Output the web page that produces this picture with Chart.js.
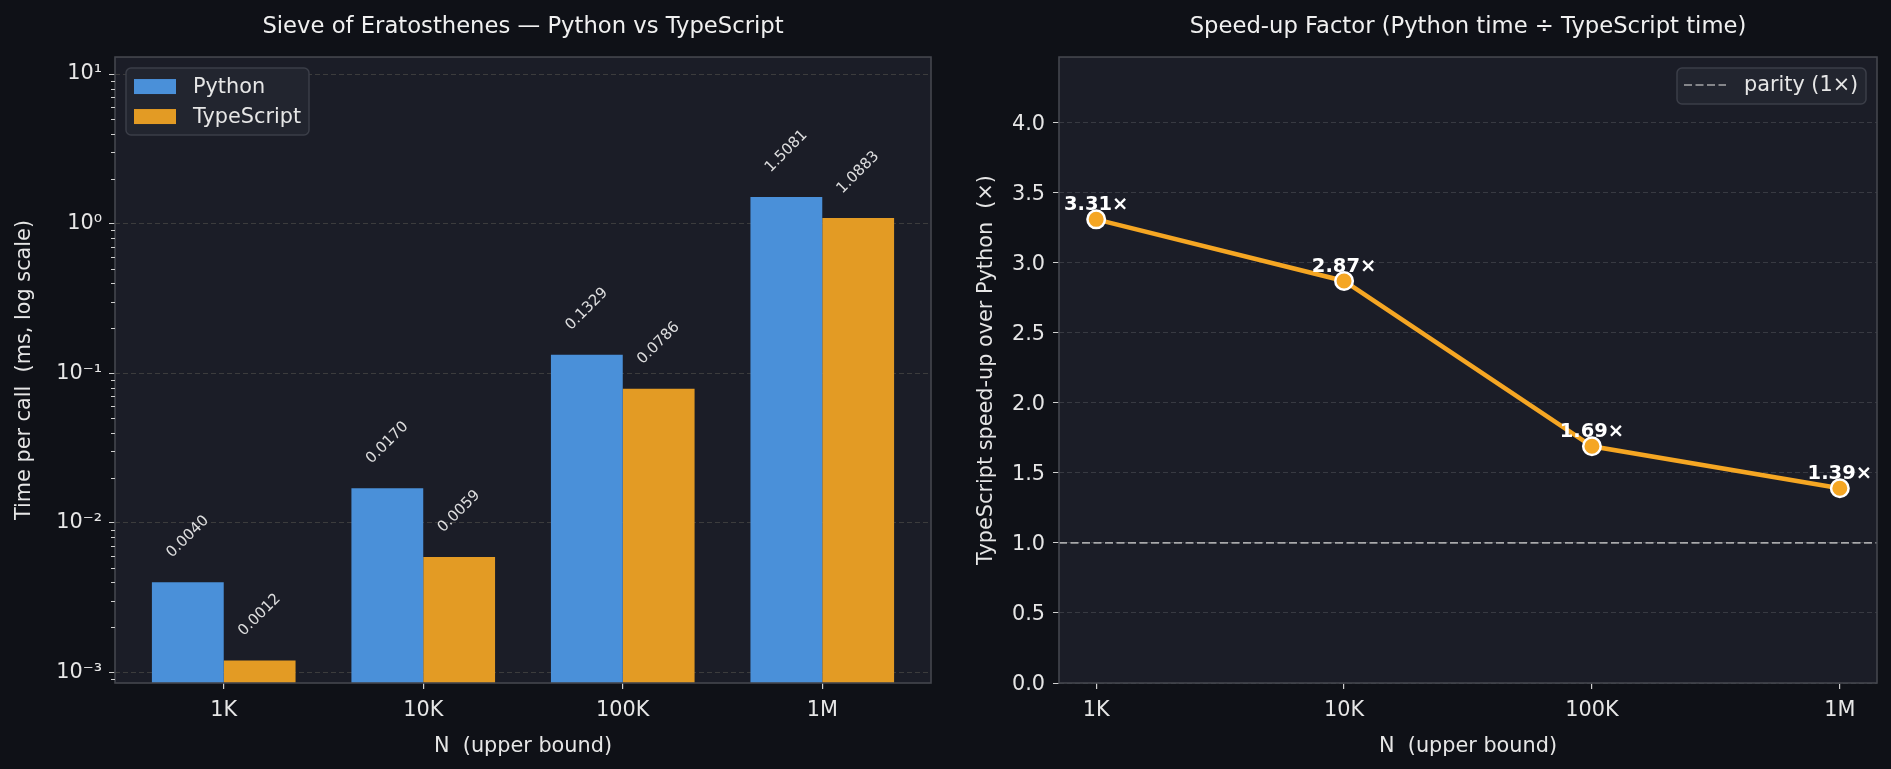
<!DOCTYPE html>
<html>
<head>
<meta charset="utf-8">
<script src="https://cdn.jsdelivr.net/npm/chart.js@4.4.1/dist/chart.umd.min.js"></script>
<style>
  body { margin: 0; background: #0f1117; }
  #left { position: absolute; left: 0; top: 0; }
  #right { position: absolute; left: 945px; top: 0; }
</style>
</head>
<body>
<canvas id="left" width="945" height="769"></canvas>
<canvas id="right" width="946" height="769"></canvas>
<script>
// datos del benchmark
const categories = ['1K', '10K', '100K', '1M'];
const pythonMs = [0.0040, 0.0170, 0.1329, 1.5081];
const typescriptMs = [0.0012, 0.0059, 0.0786, 1.0883];
const speedup = [3.31, 2.87, 1.69, 1.39];
const parity = 1;

const logMajorTicks = [0.001, 0.01, 0.1, 1, 10];
const logTickLabels = ['10⁻³', '10⁻²', '10⁻¹', '10⁰', '10¹'];
const speedTicks = [0, 0.5, 1, 1.5, 2, 2.5, 3, 3.5, 4];

// rangos de ejes
const timeMin = 0.000848, timeMax = 12.99;
const barXMin = -0.545, barXMax = 3.545;
const speedMin = 0, speedMax = 4.4685;
const lineXMin = -0.15, lineXMax = 3.15;

const FONT = 'DejaVu Sans';
const TXT = '#e6e6e6';
const PLOT_BG = '#1b1d27';
const SPINE = '#44464e';

function isMajor(v) {
    return logMajorTicks.some(m => Math.abs(m - v) / m < 1e-6);
}

// ticks menores del eje log
const logMinorTicks = [];
logMajorTicks.concat([0.0001]).forEach(m => {
    for (let k = 2; k <= 9; k++) {
        const v = m * k;
        if (v > timeMin && v < timeMax) logMinorTicks.push(v);
    }
});

// fondo del área y marco
const framePlugin = {
    id: 'frame',
    beforeDraw(chart) {
        const {ctx, chartArea: a} = chart;
        ctx.save();
        ctx.fillStyle = PLOT_BG;
        ctx.fillRect(a.left, a.top, a.right - a.left, a.bottom - a.top);
        ctx.restore();
    },
    afterDraw(chart) {
        const {ctx, chartArea: a} = chart;
        ctx.save();
        ctx.strokeStyle = SPINE;
        ctx.lineWidth = 1.6;
        ctx.strokeRect(a.left, a.top, a.right - a.left, a.bottom - a.top);
        ctx.restore();
    }
};

function roundBox(ctx, x, y, w, h, r) {
    ctx.beginPath();
    ctx.roundRect(x, y, w, h, r);
    ctx.fillStyle = '#22252f';
    ctx.fill();
    ctx.strokeStyle = '#3b3e48';
    ctx.lineWidth = 1.5;
    ctx.stroke();
}

// etiquetas rotadas sobre las barras + leyenda + ticks menores
const barExtras = {
    id: 'barExtras',
    afterDraw(chart) {
        const ctx = chart.ctx;
        const a = chart.chartArea;
        const y = chart.scales.y;
        ctx.save();

        // ticks menores
        ctx.strokeStyle = '#cfcfcf';
        ctx.lineWidth = 1;
        logMinorTicks.forEach(v => {
            const py = Math.round(y.getPixelForValue(v)) + 0.5;
            ctx.beginPath();
            ctx.moveTo(a.left - 4, py);
            ctx.lineTo(a.left, py);
            ctx.stroke();
        });

        // valores
        ctx.font = '15px "' + FONT + '"';
        ctx.fillStyle = 'rgba(238,238,238,0.92)';
        ctx.textAlign = 'center';
        ctx.textBaseline = 'middle';
        chart.data.datasets.forEach((ds, di) => {
            const meta = chart.getDatasetMeta(di);
            meta.data.forEach((bar, i) => {
                const txt = ds.data[i].y.toFixed(4);
                const w = ctx.measureText(txt).width;
                const half = (w + 14) / (2 * Math.SQRT2);
                ctx.save();
                ctx.translate(bar.x, bar.y - 22 - half);
                ctx.rotate(-Math.PI / 4);
                ctx.fillText(txt, 0, 0);
                ctx.restore();
            });
        });

        // leyenda
        const bx = a.left + 11, by = a.top + 11;
        roundBox(ctx, bx, by, 183, 67, 5);
        ctx.font = '20.8px "' + FONT + '"';
        ctx.textAlign = 'left';
        ctx.textBaseline = 'middle';
        chart.data.datasets.forEach((ds, i) => {
            const cy = by + 19 + 30 * i;
            ctx.fillStyle = ds.backgroundColor;
            ctx.fillRect(bx + 8, cy - 8, 42, 15);
            ctx.fillStyle = TXT;
            ctx.fillText(ds.label, bx + 67, cy + 1);
        });
        ctx.restore();
    }
};

const lineExtras = {
    id: 'lineExtras',
    afterDraw(chart) {
        const ctx = chart.ctx;
        const a = chart.chartArea;
        ctx.save();

        // etiquetas de cada punto
        ctx.font = 'bold 19.5px "' + FONT + '"';
        ctx.fillStyle = '#ffffff';
        ctx.textAlign = 'center';
        ctx.textBaseline = 'alphabetic';
        chart.getDatasetMeta(0).data.forEach((pt, i) => {
            ctx.fillText(speedup[i].toFixed(2) + '×', pt.x, pt.y - 9);
        });

        // leyenda
        const ds = chart.data.datasets[1];
        const bw = 189, bh = 36;
        const bx = a.right - 11 - bw, by = a.top + 11;
        roundBox(ctx, bx, by, bw, bh, 5);
        const cy = by + 17;
        ctx.strokeStyle = ds.borderColor;
        ctx.lineWidth = ds.borderWidth;
        ctx.setLineDash(ds.borderDash);
        ctx.beginPath();
        ctx.moveTo(bx + 7, cy);
        ctx.lineTo(bx + 49, cy);
        ctx.stroke();
        ctx.setLineDash([]);
        ctx.font = '20.8px "' + FONT + '"';
        ctx.textAlign = 'left';
        ctx.textBaseline = 'middle';
        ctx.fillStyle = TXT;
        ctx.fillText(ds.label, bx + 67, cy + 1);
        ctx.restore();
    }
};

const tickFont = { family: FONT, size: 20.8 };
const titleFont = { family: FONT, size: 22.7, weight: 'normal' };

// gráfica izquierda: tiempos en escala log
new Chart(document.getElementById('left'), {
    type: 'bar',
    data: {
        datasets: [
            { label: 'Python', data: pythonMs.map((v, i) => ({ x: i, y: v })), backgroundColor: '#4a90d9', borderWidth: 0 },
            { label: 'TypeScript', data: typescriptMs.map((v, i) => ({ x: i, y: v })), backgroundColor: '#e39b24', borderWidth: 0 }
        ]
    },
    options: {
        responsive: false,
        animation: false,
        devicePixelRatio: 1,
        categoryPercentage: 0.72,
        barPercentage: 1,
        layout: { padding: { left: 0, right: 14, top: 0, bottom: 0 } },
        plugins: {
            legend: { display: false },
            tooltip: { enabled: false },
            title: {
                display: true,
                fullSize: false,
                text: 'Sieve of Eratosthenes — Python vs TypeScript',
                color: '#f0f0f0',
                font: titleFont,
                padding: { top: 13.8, bottom: 16 }
            }
        },
        scales: {
            x: {
                type: 'linear',
                min: barXMin,
                max: barXMax,
                offset: false,
                afterBuildTicks: s => { s.ticks = categories.map((c, i) => ({ value: i })); },
                afterFit: s => { s.height = 86; },
                ticks: { color: TXT, font: tickFont, padding: 9, autoSkip: false, maxRotation: 0,
                    callback: v => categories[v] },
                grid: { display: true, drawOnChartArea: false, offset: false, tickLength: 6, tickColor: '#cfcfcf', lineWidth: 1.2 },
                border: { display: false },
                title: { display: true, text: 'N  (upper bound)', color: TXT, font: tickFont, padding: { top: 0, bottom: 10.3 } }
            },
            y: {
                type: 'logarithmic',
                min: timeMin,
                max: timeMax,
                z: 1,
                afterBuildTicks: s => {
                    s.ticks = logMajorTicks.concat(logMinorTicks).sort((p, q) => p - q).map(v => ({ value: v, major: isMajor(v) }));
                },
                afterFit: s => { s.width = 115; },
                ticks: { color: TXT, font: tickFont, padding: 7, autoSkip: false,
                    callback: v => isMajor(v) ? logTickLabels[logMajorTicks.findIndex(m => Math.abs(m - v) / m < 1e-6)] : '' },
                grid: {
                    color: c => (c.tick && isMajor(c.tick.value)) ? 'rgba(62,62,62,0.95)' : 'rgba(0,0,0,0)',
                    tickColor: c => (c.tick && isMajor(c.tick.value)) ? '#cfcfcf' : 'rgba(0,0,0,0)',
                    tickLength: 6,
                    lineWidth: 1
                },
                border: { display: false, dash: [5, 3] },
                title: { display: true, text: 'Time per call  (ms, log scale)', color: TXT, font: tickFont, padding: { top: 12, bottom: 0 } }
            }
        }
    },
    plugins: [framePlugin, barExtras]
});

// gráfica derecha: factor de aceleración
new Chart(document.getElementById('right'), {
    type: 'line',
    data: {
        datasets: [
            {
                label: 'speed-up',
                data: speedup.map((v, i) => ({ x: i, y: v })),
                borderColor: '#f5a623',
                borderWidth: 4.5,
                tension: 0,
                pointRadius: 8.75,
                pointBackgroundColor: '#f5a623',
                pointBorderColor: '#ffffff',
                pointBorderWidth: 2.5
            },
            {
                label: 'parity (1×)',
                data: [{ x: lineXMin, y: parity }, { x: lineXMax, y: parity }],
                borderColor: 'rgba(200,200,200,0.8)',
                borderWidth: 1.6,
                borderDash: [8, 3.5],
                pointRadius: 0
            }
        ]
    },
    options: {
        responsive: false,
        animation: false,
        devicePixelRatio: 1,
        layout: { padding: { left: 0, right: 14, top: 0, bottom: 0 } },
        plugins: {
            legend: { display: false },
            tooltip: { enabled: false },
            title: {
                display: true,
                fullSize: false,
                text: 'Speed-up Factor (Python time ÷ TypeScript time)',
                color: '#f0f0f0',
                font: titleFont,
                padding: { top: 13.8, bottom: 16 }
            }
        },
        scales: {
            x: {
                type: 'linear',
                min: lineXMin,
                max: lineXMax,
                afterBuildTicks: s => { s.ticks = categories.map((c, i) => ({ value: i })); },
                afterFit: s => { s.height = 86; },
                ticks: { color: TXT, font: tickFont, padding: 9, autoSkip: false, maxRotation: 0,
                    callback: v => categories[v] },
                grid: { display: true, drawOnChartArea: false, tickLength: 6, tickColor: '#cfcfcf', lineWidth: 1.2 },
                border: { display: false },
                title: { display: true, text: 'N  (upper bound)', color: TXT, font: tickFont, padding: { top: 0, bottom: 10.3 } }
            },
            y: {
                min: speedMin,
                max: speedMax,
                afterBuildTicks: s => { s.ticks = speedTicks.map(v => ({ value: v })); },
                afterFit: s => { s.width = 114; },
                ticks: { color: TXT, font: tickFont, padding: 8, autoSkip: false, labelOffset: 1.5,
                    callback: v => v.toFixed(1) },
                grid: { color: 'rgba(60,62,70,0.9)', tickColor: '#cfcfcf', tickLength: 6, lineWidth: 1 },
                border: { display: false, dash: [5, 3] },
                title: { display: true, text: 'TypeScript speed-up over Python  (×)', color: TXT, font: tickFont, padding: { top: 29, bottom: 0 } }
            }
        }
    },
    plugins: [framePlugin, lineExtras]
});
</script>
</body>
</html>
